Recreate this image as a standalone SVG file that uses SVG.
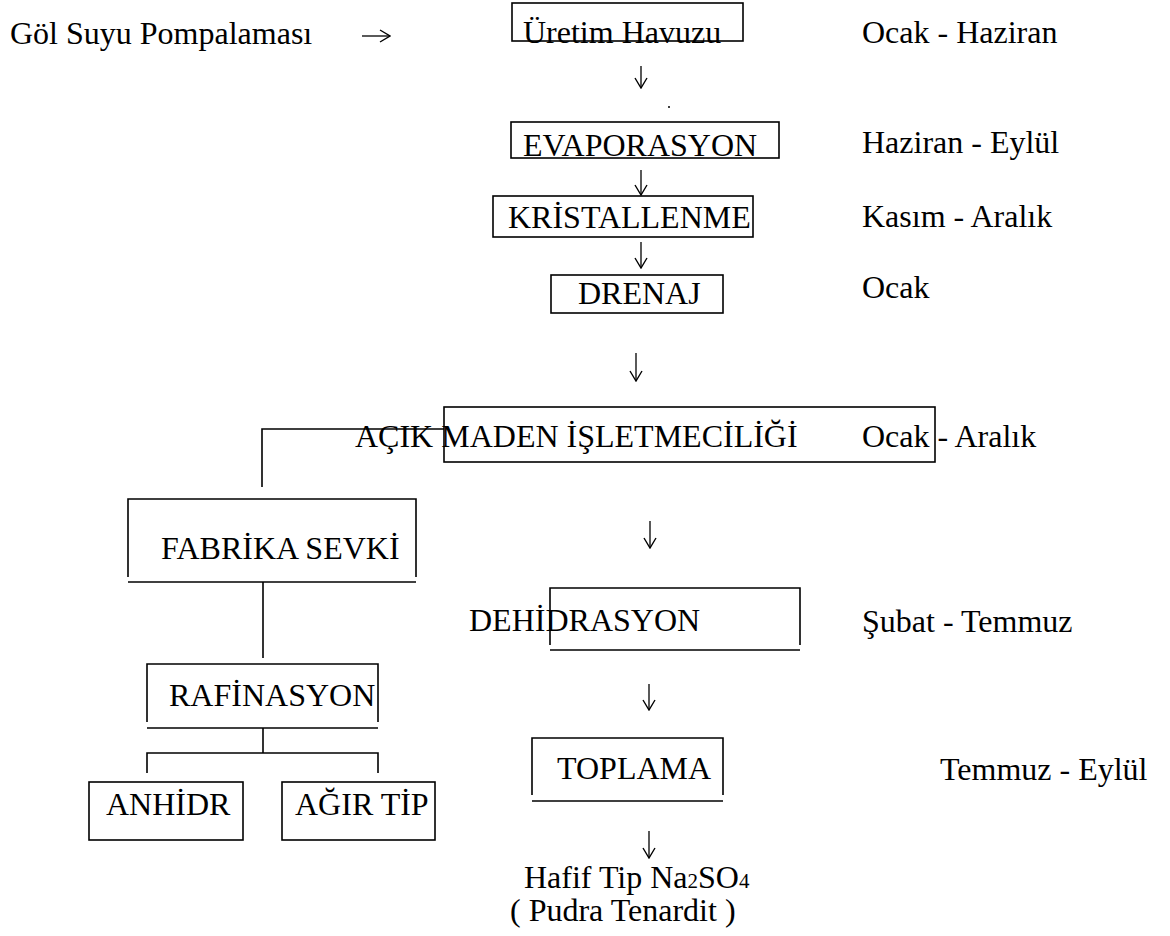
<svg xmlns="http://www.w3.org/2000/svg" width="1170" height="936" viewBox="0 0 1170 936">
<defs>
<marker id="ah" markerUnits="userSpaceOnUse" markerWidth="12" markerHeight="14" viewBox="0 0 12 14" refX="11" refY="7" orient="auto">
<path d="M1 1 L11 7 L1 13" fill="none" stroke="#000" stroke-width="1.4"/>
</marker>
</defs>
<style>
text{font-family:'Liberation Serif','Times New Roman','DejaVu Serif',serif;font-size:32px;fill:#000}
.sub{font-size:21px}
.b{fill:none;stroke:#000;stroke-width:1.6}
.c{fill:none;stroke:#000;stroke-width:1.6}
.a{fill:none;stroke:#000;stroke-width:1.3;marker-end:url(#ah)}
</style>
<rect width="1170" height="936" fill="#fff"/>
<g id="connectors">
<path class="a" d="M362 36 H390"/>
<path class="a" d="M641 66 V88"/>
<circle cx="669" cy="107" r="1" fill="#000"/>
<path class="a" d="M641 170 V195"/>
<path class="a" d="M641 242 V268"/>
<path class="a" d="M636 353 V381"/>
<path class="a" d="M650 521 V548"/>
<path class="a" d="M649 684 V710"/>
<path class="a" d="M649 831 V858"/>
<path class="c" d="M444 429 H262 V487"/>
<path class="c" d="M263 582 V658"/>
<path class="c" d="M263 728 V753"/>
<path class="c" d="M147 773 V753 H378 V773"/>
</g>
<g id="n-gol"><text x="10" y="44">Göl Suyu Pompalaması</text></g>
<g id="n-uretim">
<rect class="b" x="512" y="3" width="231" height="38"/>
<text x="523" y="43">Üretim Havuzu</text>
</g>
<g id="n-evap">
<rect class="b" x="511" y="122" width="268" height="36"/>
<text x="523" y="156">EVAPORASYON</text>
</g>
<g id="n-krist">
<rect class="b" x="493" y="196" width="260" height="41"/>
<text x="508" y="228">KRİSTALLENME</text>
</g>
<g id="n-drenaj">
<rect class="b" x="551" y="275" width="172" height="38"/>
<text x="578" y="304">DRENAJ</text>
</g>
<g id="n-acik">
<rect class="b" x="444" y="407" width="491" height="55"/>
<text x="355" y="447">AÇIK MADEN İŞLETMECİLİĞİ</text>
</g>
<g id="n-fabrika">
<path class="b" d="M128 577 V499 H416 V577"/>
<path class="b" d="M128 582 H416"/>
<text x="161" y="559">FABRİKA SEVKİ</text>
</g>
<g id="n-rafin">
<path class="b" d="M147 722 V664 H378 V722"/>
<path class="b" d="M147 728 H378"/>
<text x="169" y="706">RAFİNASYON</text>
</g>
<g id="n-anhidr">
<rect class="b" x="89" y="782" width="154" height="58"/>
<text x="106" y="815">ANHİDR</text>
</g>
<g id="n-agir">
<rect class="b" x="282" y="782" width="153" height="58"/>
<text x="295" y="815">AĞIR TİP</text>
</g>
<g id="n-dehid">
<path class="b" d="M550 645 V588 H800 V645"/>
<path class="b" d="M550 650 H800"/>
<text x="469" y="631">DEHİDRASYON</text>
</g>
<g id="n-toplama">
<path class="b" d="M532 795 V738 H723 V795"/>
<path class="b" d="M532 801 H723"/>
<text x="557" y="779">TOPLAMA</text>
</g>
<g id="n-hafif">
<text x="524" y="888">Hafif Tip Na<tspan class="sub">2</tspan>SO<tspan class="sub">4</tspan></text>
<text x="510" y="921">( Pudra Tenardit )</text>
</g>
<g id="dates">
<text x="862" y="43">Ocak - Haziran</text>
<text x="862" y="153">Haziran - Eylül</text>
<text x="862" y="227">Kasım - Aralık</text>
<text x="862" y="298">Ocak</text>
<text x="862" y="447">Ocak - Aralık</text>
<text x="862" y="632">Şubat - Temmuz</text>
<text x="940" y="780">Temmuz - Eylül</text>
</g>
</svg>
